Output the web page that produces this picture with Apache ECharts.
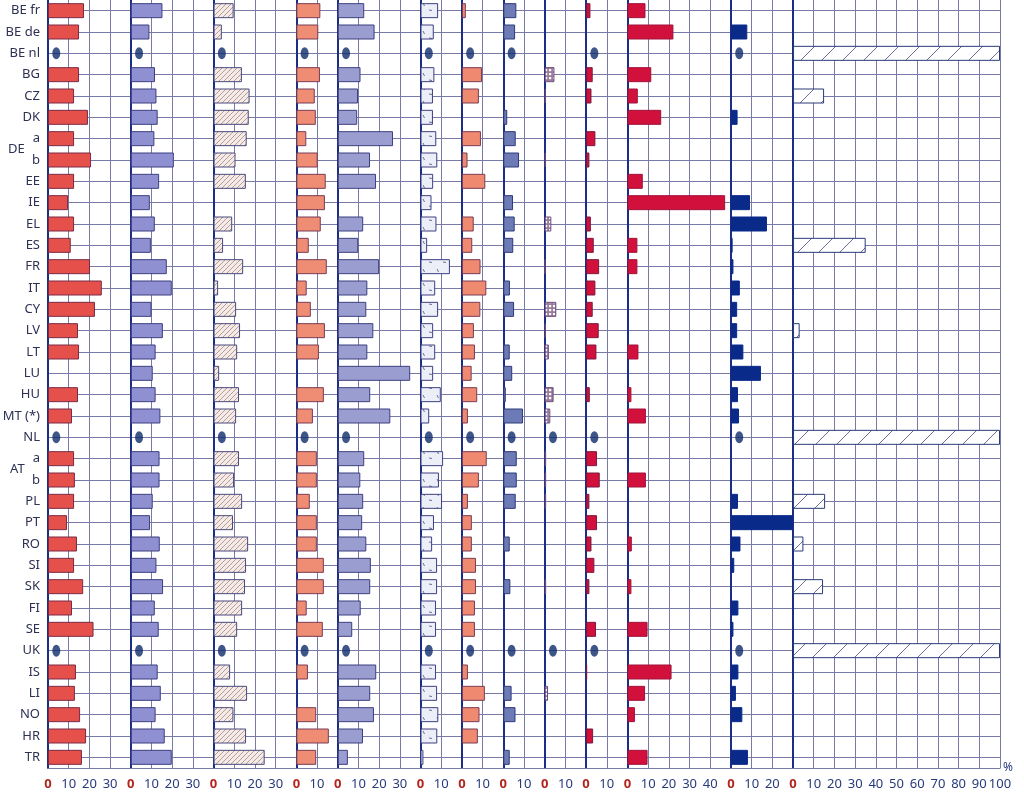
<!DOCTYPE html>
<html><head><meta charset="utf-8">
<script src="https://cdn.jsdelivr.net/npm/echarts@6/dist/echarts.min.js"></script>
<style>html,body{margin:0;padding:0;background:#fff}#c{width:1024px;height:794px}</style>
</head><body><div id="c"></div>
<script>
// ---------- DATA ----------
const categories = ['BE fr','BE de','BE nl','BG','CZ','DK','DE a','DE b','EE','IE','EL','ES','FR','IT','CY','LV','LT','LU','HU','MT (*)','NL','AT a','AT b','PL','PT','RO','SI','SK','FI','SE','UK','IS','LI','NO','HR','TR'];
const panelMax = [40,40,40,20,40,20,20,20,20,20,50,30,100];
const tickStep = 10;

const p1  = [17.4,15,null,15,12.6,19.3,12.6,20.8,12.6,9.7,12.6,11,20.3,26,22.7,14.5,15,null,14.5,11.6,null,12.6,13,12.6,9.2,14,12.6,17,11.6,22,null,13.5,13,15.5,18.4,16.4];
const p2  = [15.3,9,null,11.7,12.4,13,11.4,20.8,13.7,9.2,11.6,9.7,17.4,19.8,10,15.5,12,10.6,12,14.3,null,13.9,13.9,10.6,9.3,14,12.4,15.6,11.6,13.5,null,13,14.5,12,16.4,19.8];
const p3  = [9.7,4,null,13.7,17.4,17,16,10.6,15.6,null,9,4.6,14.3,2.2,10.9,12.8,11.4,2.7,12.3,10.9,null,12.3,9.9,13.8,9.4,16.7,15.7,15.2,13.8,11.4,null,8,16.2,9.6,15.7,24.7];
const p4  = [11.6,10.6,null,11.4,8.9,9.4,4.8,10.3,14.2,13.8,11.8,6,14.7,5,7,13.8,10.9,null,13.3,8,null,9.9,9.9,6.5,9.9,9.9,13.3,13.3,5,12.8,null,5.6,null,9.6,15.7,9.6];
const p5  = [12.8,17.8,null,11,9.8,9.4,26.7,15.6,18.5,null,12.3,9.9,20,14.3,13.8,17.2,14.3,35,15.7,25.4,null,12.8,10.9,12.3,11.8,13.8,16,15.7,11.1,7,null,18.6,15.7,17.5,12.2,4.9];
const p6  = [8.5,6.4,null,6.7,6,6,7.6,8.1,6.1,5.3,7.7,3.2,14.2,7.1,8.5,6.1,7.1,6.1,9.8,4.2,null,10.9,8.9,10.4,6.5,5.6,8,8,7.5,7.5,null,7.5,8,8.6,8.1,1.4];
const p7  = [1.9,null,null,9.7,8.2,null,9.2,2.7,11.3,null,5.7,5,9,11.8,8.9,5.8,6.3,4.7,7.4,2.9,null,12,8.2,2.9,4.8,4.8,6.8,6.8,6.3,6.3,null,2.9,11.1,8.5,7.7,null];
const p8  = [6.3,5.7,null,null,null,1.9,6,7.6,null,4.7,5.5,4.8,null,3.2,5.2,null,3.1,4.3,1.2,9.5,null,6.5,6.5,6,null,3.1,null,3.4,null,null,null,null,4,5.9,null,3.1];
const p9  = [null,null,null,4.7,0.5,null,null,0.5,null,null,3.2,null,0.3,null,5.6,0.5,2,null,4.3,2.7,null,0.7,0.7,0.7,null,null,null,0.7,null,null,null,null,1.6,null,null,null];
const p10 = [2.1,null,null,3.2,2.6,null,4.5,1.6,null,null,2.3,3.7,6.3,4.5,3.2,6.1,5,null,1.8,null,null,5.3,6.6,1.6,5.3,2.6,4,1.6,null,4.8,null,0.5,null,null,3.4,null];
const p11 = [8.7,22.2,null,11.5,5,16.3,null,null,7.4,47.2,null,4.8,4.8,null,null,null,5.3,null,1.9,8.9,null,null,8.9,null,null,2.1,null,1.9,null,9.7,null,21.3,8.5,3.6,null,9.7];
const p12 = [null,7.9,null,null,null,3.2,null,null,null,9.2,17.4,0.8,1.2,4.3,3,3,6,14.5,3.4,3.9,null,null,null,3.4,29.8,4.6,1.6,null,3.6,1.2,null,3.6,2.4,5.5,null,8.2];
const p13 = [null,null,100,null,15,null,null,null,null,null,null,35.1,null,null,null,3.2,null,null,null,null,100,null,null,15.5,null,5,null,14.5,null,null,100,null,null,null,null,null];

// rows with no data: panels (1-based) where a dot is shown
const dotPanels = {
  'BE nl': [1,2,3,4,5,6,7,8,10,12],
  'NL':    [1,2,3,4,5,6,7,8,9,10,12],
  'UK':    [1,2,3,4,5,6,7,8,9,10,12]
};

// ---------- STYLE ----------
function pattern(w, h, draw) {
  const c = document.createElement('canvas');
  c.width = w; c.height = h;
  draw(c.getContext('2d'), w, h);
  return { image: c, repeat: 'repeat' };
}
const hatchPink = pattern(5, 5, (g, w, h) => {
  g.fillStyle = '#f3ebe8'; g.fillRect(0, 0, w, h);
  g.strokeStyle = '#bd9a94'; g.lineWidth = 1;
  g.beginPath();
  g.moveTo(-1, h + 1); g.lineTo(w + 1, -1);
  g.moveTo(-1, 1); g.lineTo(1, -1);
  g.moveTo(w - 1, h + 1); g.lineTo(w + 1, h - 1);
  g.stroke();
});
const dashBlue = pattern(14, 14, (g, w, h) => {
  g.fillStyle = '#eceff8'; g.fillRect(0, 0, w, h);
  g.strokeStyle = '#5d6288'; g.lineWidth = 0.9;
  g.beginPath();
  g.moveTo(3, 3); g.lineTo(4.5, 6);
  g.moveTo(9, 10); g.lineTo(12, 10.5);
  g.stroke();
});
const checker = pattern(4, 4, (g, w, h) => {
  g.fillStyle = '#9c7c9c'; g.fillRect(0, 0, w, h);
  g.fillStyle = '#ffffff'; g.fillRect(1, 1, 2.2, 2.2);
});
const hatchWide = pattern(21, 21, (g, w, h) => {
  g.fillStyle = '#ffffff'; g.fillRect(0, 0, w, h);
  g.strokeStyle = '#6d7096'; g.lineWidth = 1;
  g.beginPath();
  g.moveTo(-1, h + 1); g.lineTo(w + 1, -1);
  g.stroke();
});

const panelData = [p1,p2,p3,p4,p5,p6,p7,p8,p9,p10,p11,p12,p13];
const panelStyle = [
  { color: '#e5504b', borderColor: '#7a2b45' },
  { color: '#8f90d2', borderColor: '#3d3f80' },
  { color: hatchPink, borderColor: '#4a4a7a' },
  { color: '#ef8c74', borderColor: '#7a3d55' },
  { color: '#9a9dd0', borderColor: '#3d3f80' },
  { color: dashBlue,  borderColor: '#3d3f80' },
  { color: '#ef8a71', borderColor: '#7a3d55' },
  { color: '#6c7ab6', borderColor: '#2f3a78' },
  { color: checker,   borderColor: '#6a4a7a' },
  { color: '#d2103c', borderColor: '#7a1840' },
  { color: '#d1103b', borderColor: '#a0123e' },
  { color: '#0a2a8a', borderColor: '#0a2a8a' },
  { color: hatchWide, borderColor: '#2b3a7a' }
];

const gridColor = '#777aa6';
const axisColor = '#1b2d86';
const labelColor = '#2d3152';
const FONT = 'Noto Sans';

const LEFT = 48, RIGHT = 1000, TOP = 0, HEIGHT = 768;
const totalUnits = panelMax.reduce((a, b) => a + b, 0);
const unitPx = (RIGHT - LEFT) / totalUnits;
const DOT_X = 4; // in axis units (marker for "no data")

const grids = [], xAxes = [], yAxes = [], series = [];
let cum = 0;
panelMax.forEach((mx, i) => {
  grids.push({ left: LEFT + cum * unitPx, top: TOP, width: mx * unitPx, height: HEIGHT, outerBoundsMode: 'none', containLabel: false });
  cum += mx;
  const last = i === panelMax.length - 1;
  xAxes.push({
    gridIndex: i, type: 'value', min: 0, max: mx, interval: tickStep,
    axisLine: { show: true, onZero: false, lineStyle: { color: gridColor, width: 1.2 } },
    axisTick: { show: false },
    splitLine: { show: true, lineStyle: { color: gridColor, width: 1 } },
    axisLabel: {
      show: true, showMinLabel: true, showMaxLabel: last, margin: 10,
      formatter: v => v === 0 ? '{z|0}' : '{n|' + v + '}',
      rich: {
        z: { color: '#b3261e', fontWeight: 'bold', fontSize: 13, fontFamily: FONT },
        n: { color: '#283a7c', fontSize: 13, fontFamily: FONT }
      }
    },
    name: last ? '%' : '',
    nameLocation: 'end', nameGap: 3,
    nameTextStyle: { color: '#283a7c', fontSize: 12, fontFamily: FONT, padding: [18, 0, 0, 0] }
  });
  yAxes.push({
    gridIndex: i, type: 'category', data: categories, inverse: true, boundaryGap: true,
    axisLine: { show: true, onZero: false, lineStyle: { color: axisColor, width: 2 } },
    axisTick: { show: false },
    splitLine: { show: true, interval: 0, alignWithLabel: true, lineStyle: { color: gridColor, width: 1 } },
    axisLabel: {
      show: i === 0, interval: 0, margin: 8,
      formatter: v => {
        const m = v.match(/^(DE|AT) (a|b)$/);
        if (m) return m[2] === 'a' ? '{g|' + m[1] + '}{s|a}' : '{s|b}';
        return '{t|' + v + '}';
      },
      rich: {
        t: { fontSize: 13, color: labelColor, fontFamily: FONT },
        g: { fontSize: 13, color: labelColor, fontFamily: FONT, padding: [21, 8, 0, 0] },
        s: { fontSize: 13, color: labelColor, fontFamily: FONT, verticalAlign: 'middle' }
      }
    }
  });
  series.push({
    type: 'bar', xAxisIndex: i, yAxisIndex: i, barWidth: 15, z: 3,
    data: panelData[i],
    itemStyle: { color: panelStyle[i].color, borderColor: panelStyle[i].borderColor, borderWidth: 1 },
    emphasis: { disabled: true }, silent: true
  });
  const dots = Object.keys(dotPanels).filter(r => dotPanels[r].includes(i + 1)).map(r => [DOT_X, r]);
  if (dots.length) {
    series.push({
      type: 'scatter', xAxisIndex: i, yAxisIndex: i, z: 4,
      symbol: 'circle', symbolSize: [8, 12],
      itemStyle: { color: '#0e2b6c' },
      data: dots, silent: true
    });
  }
});

const chart = echarts.init(document.getElementById('c'), null, { renderer: 'canvas' });
chart.setOption({
  animation: false,
  backgroundColor: '#ffffff',
  grid: grids, xAxis: xAxes, yAxis: yAxes, series: series
});
</script></body></html>
